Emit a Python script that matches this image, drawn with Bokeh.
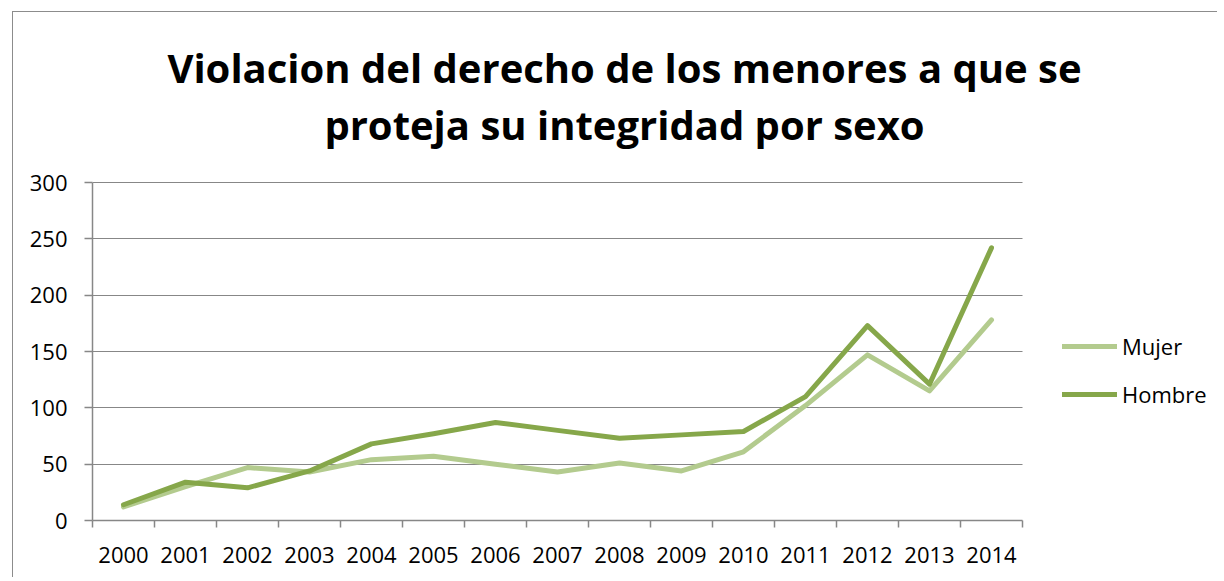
from bokeh.plotting import figure
from bokeh.models import Range1d, FixedTicker, Label, Legend, LegendItem, BoxAnnotation
from bokeh.embed import file_html
from bokeh.resources import INLINE

years = [2000, 2001, 2002, 2003, 2004, 2005, 2006, 2007, 2008, 2009, 2010, 2011, 2012, 2013, 2014]
mujer = [12, 30, 47, 43, 54, 57, 50, 43, 51, 44, 61, 102, 147, 115, 178]
hombre = [14, 34, 29, 44, 68, 77, 87, 80, 73, 76, 79, 110, 173, 121, 242]
y_ticks = [0, 50, 100, 150, 200, 250, 300]
title_lines = ["Violacion del derecho de los menores a que se", "proteja su integridad por sexo"]

FONT = "Open Sans"
GRID = "#878787"
C_MUJER = "#B3CB8E"
C_HOMBRE = "#86A74A"

W, H = 1205, 566
LEFT, BOTTOM = 79, 58
BAND = 62.0            # px per year band
PXU = 338.0 / 300.0    # px per value unit
x0 = years[0] - 0.5
x1 = x0 + (W - LEFT) / BAND
y1 = (H - BOTTOM) / PXU

p = figure(width=W, height=H, output_backend="svg", toolbar_location=None,
           x_range=Range1d(x0, x1), y_range=Range1d(0, y1),
           min_border_left=LEFT, min_border_right=0, min_border_top=0, min_border_bottom=BOTTOM)
p.styles = {"margin-left": "12px", "margin-top": "11px",
            "border-left": "1px solid #8c8c8c", "border-top": "1px solid #8c8c8c"}
p.outline_line_color = None
p.xgrid.grid_line_color = None
p.ygrid.grid_line_color = GRID
p.ygrid.ticker = FixedTicker(ticks=y_ticks)

p.yaxis.ticker = FixedTicker(ticks=y_ticks)
p.yaxis.bounds = (y_ticks[0], y_ticks[-1])
p.xaxis.ticker = FixedTicker(ticks=years, minor_ticks=[y - 0.5 for y in years] + [years[-1] + 0.5])
p.xaxis.bounds = (years[0] - 0.5, years[-1] + 0.5)
for ax in (p.xaxis, p.yaxis):
    ax.axis_line_color = GRID
    ax.axis_line_width = 1.5
    ax.major_tick_line_color = GRID
    ax.minor_tick_line_color = GRID
    ax.major_tick_line_width = 1.5
    ax.minor_tick_line_width = 1.5
    ax.major_label_text_font = FONT
    ax.major_label_text_font_size = "22px"
    ax.major_label_text_color = "#000000"
p.xaxis.major_tick_out = 0
p.xaxis.major_tick_in = 0
p.xaxis.minor_tick_out = 7
p.xaxis.minor_tick_in = 0
p.xaxis.major_label_standoff = 19
p.yaxis.major_tick_out = 8
p.yaxis.major_tick_in = 0
p.yaxis.minor_tick_line_color = None
p.yaxis.major_label_standoff = 17

# hide grid lines beyond the last year band (legend area)
p.add_layout(BoxAnnotation(left=years[-1] + 0.5, fill_color="white", fill_alpha=1,
                           line_color=None, level="underlay"))

r1 = p.line(years, mujer, line_color=C_MUJER, line_width=5, line_cap="round", line_join="round")
r2 = p.line(years, hombre, line_color=C_HOMBRE, line_width=5, line_cap="round", line_join="round")

legend = Legend(items=[LegendItem(label="Mujer", renderers=[r1]), LegendItem(label="Hombre", renderers=[r2])],
                location=(970, 111), glyph_width=55, glyph_height=24, label_standoff=5, spacing=18,
                padding=0, margin=0, border_line_color=None, background_fill_alpha=0,
                label_text_font=FONT, label_text_font_size="22px", label_text_color="#000000")
p.add_layout(legend)

title_x = x0 + (624 - 92) / BAND
for t, base_px in zip(title_lines, [67, 124]):
    p.add_layout(Label(x=title_x, y=(520 - base_px) / PXU, text=t, text_align="center",
                       text_baseline="alphabetic", text_font=FONT, text_font_style="bold",
                       text_font_size="40px", text_color="#000000"))

open("out.html", "w").write(file_html(p, INLINE))
